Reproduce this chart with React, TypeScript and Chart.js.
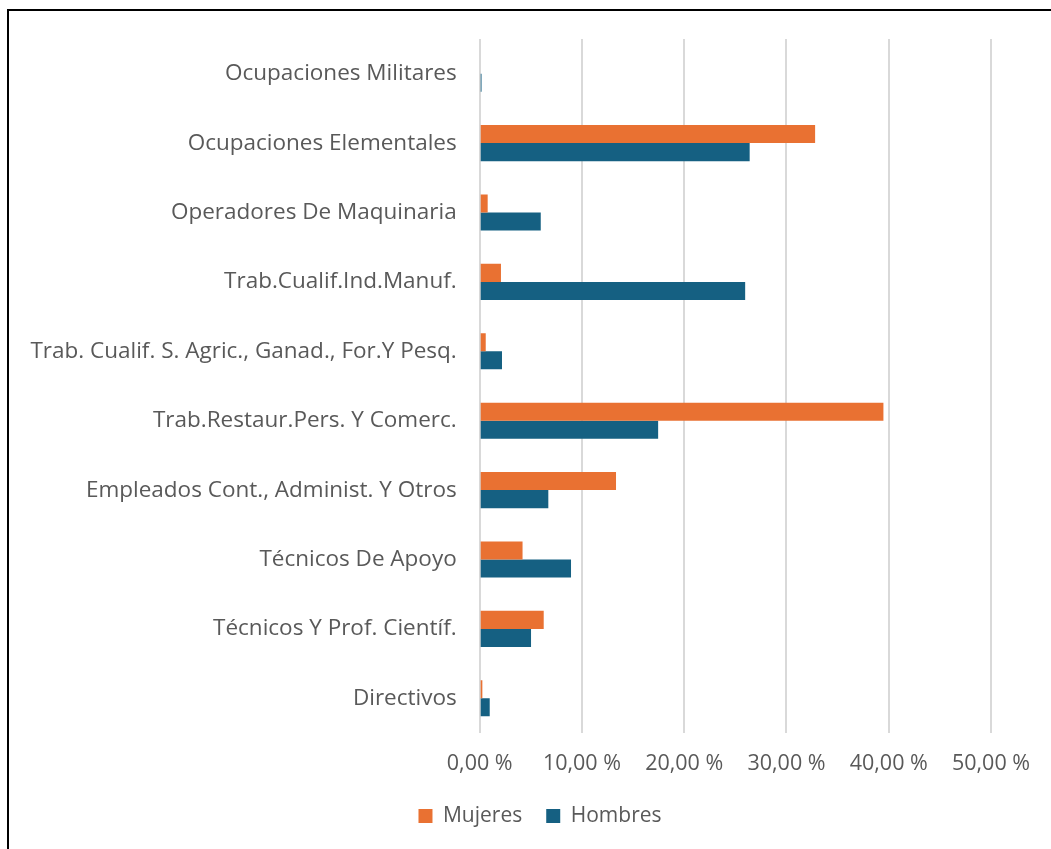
import React, { useEffect, useRef } from "react";
import { Chart, registerables } from "chart.js";

Chart.register(...registerables);

const categories = [
  "Ocupaciones Militares",
  "Ocupaciones Elementales",
  "Operadores De Maquinaria",
  "Trab.Cualif.Ind.Manuf.",
  "Trab. Cualif. S. Agric., Ganad., For.Y Pesq.",
  "Trab.Restaur.Pers. Y Comerc.",
  "Empleados Cont., Administ. Y Otros",
  "Técnicos De Apoyo",
  "Técnicos Y Prof. Científ.",
  "Directivos",
];

const mujeres = [0, 32.8, 0.78, 2.08, 0.59, 39.48, 13.33, 4.19, 6.26, 0.26];
const hombres = [0.18, 26.4, 5.97, 25.96, 2.18, 17.45, 6.71, 8.93, 5.02, 0.98];

const xMin = 0;
const xMax = 50;
const xStep = 10;

const FONT = "'Open Sans', sans-serif";
const TEXT = "#595959";

const legendShift = {
  id: "legendShift",
  afterLayout(chart: any) {
    if (chart.legend) {
      chart.legend.left += 80;
    }
  },
};

export default function App() {
  const ref = useRef<HTMLCanvasElement | null>(null);

  useEffect(() => {
    if (!ref.current) return;
    const chart = new Chart(ref.current, {
      type: "bar",
      data: {
        labels: categories,
        datasets: [
          {
            label: "Mujeres",
            data: mujeres,
            backgroundColor: "#E97132",
            borderWidth: 0,
            categoryPercentage: 0.52,
            barPercentage: 1,
          },
          {
            label: "Hombres",
            data: hombres,
            backgroundColor: "#156082",
            borderWidth: 0,
            categoryPercentage: 0.52,
            barPercentage: 1,
          },
        ],
      },
      plugins: [legendShift],
      options: {
        indexAxis: "y",
        animation: false,
        responsive: false,
        layout: { padding: { left: 0, right: 60, top: 28, bottom: 12.5 } },
        plugins: {
          tooltip: { enabled: false },
          legend: {
            position: "bottom",
            labels: {
              boxWidth: 14,
              boxHeight: 14,
              padding: 24,
              color: TEXT,
              font: { family: FONT, size: 21 },
            },
          },
        },
        scales: {
          x: {
            min: xMin,
            max: xMax,
            ticks: {
              stepSize: xStep,
              color: TEXT,
              padding: 18,
              font: { family: FONT, size: 21.5 },
              callback: (v: any) => Number(v).toFixed(2).replace(".", ",") + " %",
            },
            grid: { color: "#D9D9D9", lineWidth: 2, drawTicks: false },
            border: { display: false },
            afterFit: (scale: any) => {
              scale.height = 48.5;
            },
          },
          y: {
            ticks: {
              color: TEXT,
              padding: 23,
              font: { family: FONT, size: 22.5 },
            },
            grid: { display: false, drawTicks: false },
            border: { display: false },
            afterFit: (scale: any) => {
              scale.width = 470.7;
              scale.paddingTop = 0;
              scale.paddingBottom = 0;
            },
          },
        },
      },
    });
    return () => chart.destroy();
  }, []);

  return (
    <div
      style={{
        position: "absolute",
        left: 7,
        top: 9,
        width: 1044,
        height: 840,
        borderTop: "2px solid #000",
        borderLeft: "2px solid #000",
        background: "#fff",
        overflow: "hidden",
      }}
    >
      <canvas ref={ref} width={1042} height={838} style={{ display: "block" }} />
    </div>
  );
}
